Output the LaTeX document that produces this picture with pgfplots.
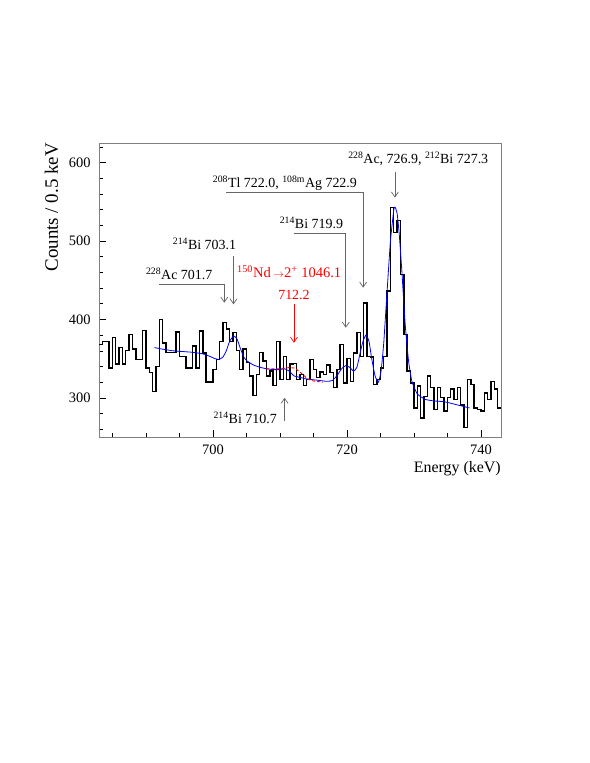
\documentclass[border=0pt]{standalone}
\usepackage{pgfplots}
\pgfplotsset{compat=1.18}
\usepackage{fontspec}
\setmainfont{Liberation Serif}
\usetikzlibrary{arrows.meta}
\definecolor{annot}{gray}{0.4}
\begin{document}
\begin{tikzpicture}[font=\fontsize{14}{17}\selectfont,
  lab/.style={inner sep=0pt, anchor=base west},
  arr/.style={annot, line width=0.7bp, -{Straight Barb[length=5bp,width=7bp]}}]
\path[use as bounding box] (0,0) rectangle (590bp,763bp);
\begin{axis}[at={(99bp,326bp)}, anchor=south west,
  scale only axis, width=402bp, height=294bp,
  xmin=683, xmax=743, ymin=250, ymax=625,
  xtick={700,720,740},
  minor xtick={685,690,695,705,710,715,725,730,735},
  ytick={300,400,500,600},
  minor ytick={260,280,320,340,360,380,420,440,460,480,520,540,560,580,620},
  tick pos=left, tick align=inside,
  major tick length=7bp, minor tick length=3.5bp,
  tick style={black, line width=0.5bp},
  axis line style={black!50, line width=0.6bp},
  /pgf/number format/assume math mode=true,
  ticklabel style={font=\fontsize{14.5}{17}\selectfont},
  xticklabel style={yshift=-4bp},
  yticklabel style={xshift=-5bp},
  clip=false]

% histogram, 0.5 keV bins (left edges)
\addplot[const plot, black, line width=1.4bp] coordinates {
(683.0,368)(683.5,372)(684.0,372)(684.5,338)(685.0,377)(685.5,343)(686.0,364)(686.5,343)
(687.0,360)(687.5,381)(688.0,362)(688.5,349)(689.0,349)(689.5,386)(690.0,338)(690.5,332)
(691.0,308)(691.5,340)(692.0,400)(692.5,370)(693.0,358)(693.5,358)(694.0,358)(694.5,384)
(695.0,353)(695.5,353)(696.0,338)(696.5,338)(697.0,366)(697.5,338)(698.0,385)(698.5,357)
(699.0,320)(699.5,320)(700.0,336)(700.5,349)(701.0,372)(701.5,396)(702.0,388)(702.5,372)
(703.0,383)(703.5,360)(704.0,336)(704.5,362)(705.0,345)(705.5,328)(706.0,303)(706.5,330)
(707.0,358)(707.5,347)(708.0,328)(708.5,334)(709.0,316)(709.5,372)(710.0,323)(710.5,353)
(711.0,323)(711.5,343)(712.0,344)(712.5,323)(713.0,330)(713.5,316)(714.0,323)(714.5,349)
(715.0,336)(715.5,326)(716.0,333)(716.5,330)(717.0,342)(717.5,332)(718.0,313)(718.5,336)
(719.0,368)(719.5,319)(720.0,350)(720.5,321)(721.0,357)(721.5,383)(722.0,353)(722.5,421)
(723.0,353)(723.5,352)(724.0,317)(724.5,323)(725.0,338)(725.5,353)(726.0,436)(726.5,543)
(727.0,511)(727.5,526)(728.0,457)(728.5,381)(729.0,334)(729.5,319)(730.0,287)(730.5,315)
(731.0,274)(731.5,302)(732.0,328)(732.5,313)(733.0,285)(733.5,313)(734.0,300)(734.5,283)
(735.0,300)(735.5,311)(736.0,298)(736.5,313)(737.0,291)(737.5,262)(738.0,323)(738.5,317)
(739.0,287)(739.5,285)(740.0,283)(740.5,306)(741.0,298)(741.5,321)(742.0,311)(742.5,287)
(743.0,287)
};

% fit
\addplot[blue, line width=0.8bp, smooth, tension=0.3] coordinates {
(691.3,364)(692.5,362)(694,360)(695.5,359)(697,358)(698.5,356)(699.5,353)(700.3,350)
(700.9,349)(701.5,352)(702.0,360)(702.5,372)(703.1,379)(703.6,375)(704.1,363)(704.6,352)
(705.1,347)(706,342)(707,339)(708,337)(709,336)(710,336)(710.7,337)(711.4,334)
(712.1,328)(713,326)(714,324)(715,323)(716,322)(717,321)(717.8,322)(718.5,328)
(719.2,337)(719.8,341)(720.4,339)(721.0,334)(721.5,339)(722.0,358)(722.4,372)(722.85,380)
(723.3,372)(723.7,350)(724.2,328)(724.7,320)(725.1,334)(725.5,370)(726.0,436)(726.5,500)
(727.0,540)(727.2,543)(727.5,535)(727.8,510)(728.2,462)(728.7,394)(729.2,347)(729.7,321)
(730.5,305)(731.7,298)(733,296)(734.5,295)(736,292)(738.3,287)
};
\addplot[red, line width=0.9bp, dash pattern=on 3bp off 2bp, smooth] coordinates {
(708.0,337)(709,337)(710,337)(710.8,338)(711.5,338.5)(712.1,338)(712.8,334)(713.5,329)
(714.2,324)(715,321.5)(716.4,320)
};

% labels
\node[lab] at (axis cs:690.0,450.5) {\textsuperscript{228}Ac 701.7};
\draw[arr] (axis cs:691.9,444.7) -| (axis cs:701.7,421.3);

\node[lab] at (axis cs:694.0,489.4) {\textsuperscript{214}Bi 703.1};
\draw[arr] (axis cs:703.07,480.8) -- (axis cs:703.07,419.2);

\node[inner sep=0pt, anchor=base east, red, font=\fontsize{14.6}{17}\selectfont] at (axis cs:719.19,453.3) {\textsuperscript{150}Nd\,{\fontsize{10.5}{12}\selectfont$\rightarrow$}2\textsuperscript{+} 1046.1};
\node[inner sep=0pt, anchor=base, red] at (axis cs:712.1,425.5) {712.2};
\draw[arr, red] (axis cs:712.1,419.2) -- (axis cs:712.1,370.2);

\node[lab] at (axis cs:699.97,568.2) {\textsuperscript{208}Tl 722.0, \textsuperscript{108m}Ag 722.9};
\draw[arr] (axis cs:701.98,561.8) -| (axis cs:722.43,440.5);

\node[lab] at (axis cs:709.96,516.2) {\textsuperscript{214}Bi 719.9};
\draw[arr] (axis cs:712.05,509.8) -| (axis cs:719.84,389.4);

\node[lab] at (axis cs:720.18,598.9) {\textsuperscript{228}Ac, 726.9, \textsuperscript{212}Bi 727.3};
\draw[arr] (axis cs:727.17,587.4) -- (axis cs:727.17,555.4);

\node[lab] at (axis cs:700.07,267.2) {\textsuperscript{214}Bi 710.7};
\draw[arr] (axis cs:710.7,270.1) -- (axis cs:710.7,300);

% axis titles
\node[rotate=90, anchor=east, inner sep=0pt, font=\fontsize{19}{22}\selectfont] at ([xshift=-47.5bp]rel axis cs:0,1) {Counts / 0.5 keV};
\node[anchor=north east, inner sep=0pt, font=\fontsize{16}{19}\selectfont] at ([yshift=-24bp]rel axis cs:1,0) {Energy (keV)};
\end{axis}
\end{tikzpicture}
\end{document}
